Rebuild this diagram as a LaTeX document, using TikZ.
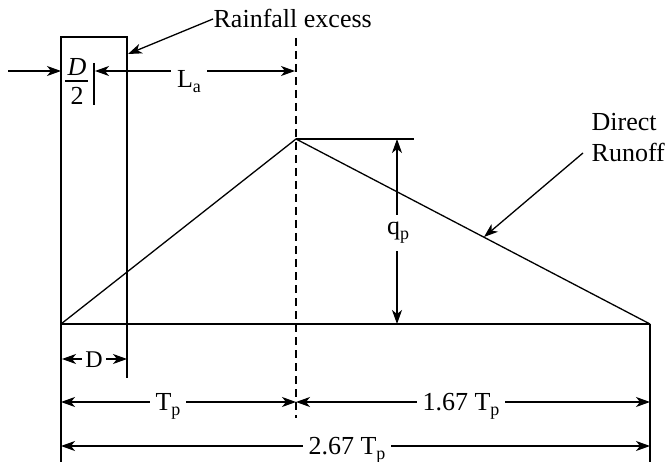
\documentclass[tikz,border=0pt]{standalone}
\usepackage{fontspec}
\setmainfont{Liberation Serif}
\usetikzlibrary{arrows.meta}
\newcommand{\lsub}[1]{\raisebox{-5pt}{\fontsize{18}{18}\selectfont #1}}
\begin{document}
\begin{tikzpicture}[x=1pt,y=-1pt,
  font=\fontsize{26}{30}\selectfont,
  line width=1.3pt,
  tip/.tip={Stealth[length=14pt,width=10pt,inset=4pt]},
  arr/.style={-tip},
  dbl/.style={tip-tip},
  lbl/.style={fill=white,inner xsep=6pt,inner ysep=3pt,anchor=base},
  dashline/.style={dash pattern=on 8pt off 5pt}]
\useasboundingbox (0,0) rectangle (666,462);
% coordinates
\coordinate (rtl) at (61,37);
\coordinate (rtr) at (127,37);
\coordinate (rbr) at (127,378);
\coordinate (lbot) at (61,462);
\coordinate (b0) at (61,324);
\coordinate (b1) at (650,324);
\coordinate (pk) at (296,139);
\coordinate (rbot) at (650,462);
\coordinate (dtop) at (296,38);
\coordinate (dbot) at (296,418);
\coordinate (pkh) at (414,139);
% rainfall rectangle and verticals
\draw (lbot) -- (rtl) -- (rtr) -- (rbr);
\draw (b1) -- (rbot);
\draw[dashline] (dtop) -- (dbot);
% hydrograph
\draw (b0) -- (b1);
\draw (b0) -- (pk) -- (b1);
\draw (pk) -- (pkh);
% D/2
\node[inner sep=0pt,anchor=base] (dn) at (77,76) {\itshape D};
\node[inner sep=0pt,anchor=base] (two) at (77,105) {2};
\coordinate (fb0) at (65,81);
\coordinate (fb1) at (88,81);
\draw[line width=1.1pt] (fb0) -- (fb1);
\coordinate (bar0) at (94,63);
\coordinate (bar1) at (94,105);
\draw (bar0) -- (bar1);
% top arrows
\coordinate (a0) at (8,71);
\coordinate (a1) at (61,71);
\draw[arr] (a0) -- (a1);
\coordinate (la0) at (95,71);
\coordinate (la1) at (295,71);
\draw[dbl] (la0) -- (la1);
\node[lbl] (la) at (189,88) {L\lsub{a}};
% rainfall excess
\node[inner sep=0pt,anchor=base west] (rain) at (213,28) {Rainfall excess};
\coordinate (rtip) at (128,54);
\draw[arr] (rain.west) -- (rtip);
% direct runoff
\node[inner sep=0pt,anchor=base west] (direct) at (591,131) {Direct};
\node[inner xsep=8pt,inner ysep=0pt,anchor=base west] (runoff) at (583,162) {Runoff};
\coordinate (rotip) at (484,237);
\draw[arr] (runoff.west) -- (rotip);
% qp
\coordinate (q0) at (397,139);
\coordinate (q1) at (397,324);
\draw[dbl] (q1) -- (q0);
\node[lbl,inner ysep=7pt] (qp) at (398,235) {q\lsub{p}};
% D row
\coordinate (d0) at (62,359);
\coordinate (d1) at (127,359);
\draw[tip-tip,line width=1.1pt] (d0) -- (d1);
\node[lbl,inner xsep=3pt,font=\fontsize{24}{28}\selectfont] (dl) at (94,367) {D};
% Tp row
\coordinate (t0) at (61,402);
\coordinate (t1) at (296,402);
\coordinate (t2) at (650,402);
\draw[dbl] (t0) -- (t1);
\draw[dbl] (t1) -- (t2);
\node[lbl] (tp) at (168,410) {T\lsub{p}};
\node[lbl] (tp2) at (461,410) {1.67 T\lsub{p}};
% 2.67 row
\coordinate (s0) at (61,446);
\coordinate (s1) at (650,446);
\draw[dbl] (s0) -- (s1);
\node[lbl] (tp3) at (347,454) {2.67 T\lsub{p}};
\end{tikzpicture}
\end{document}
